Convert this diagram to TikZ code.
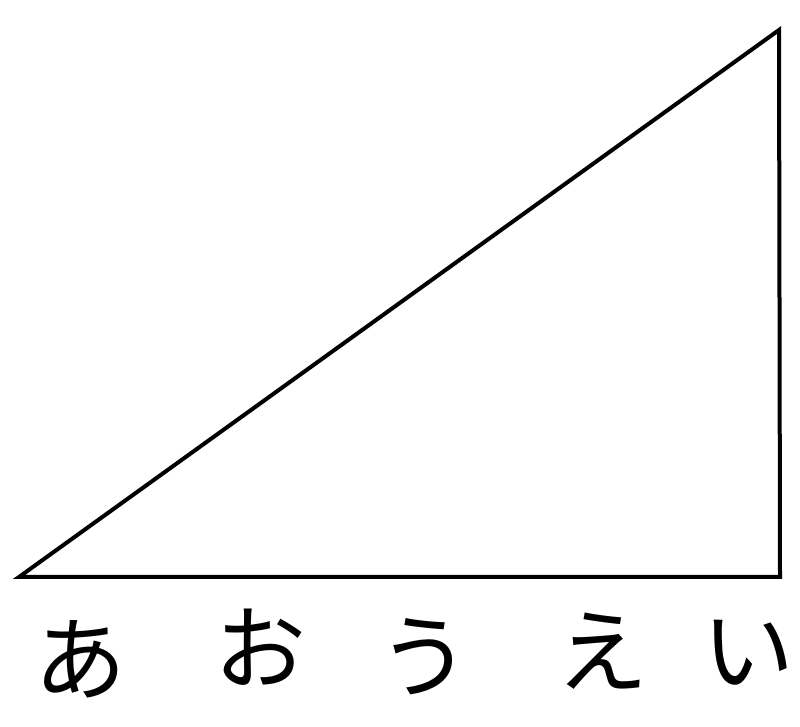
\documentclass[tikz,border=0pt]{standalone}
\usepackage{fontspec}
\newfontfamily\cjk{Noto Sans CJK JP}
\begin{document}
\begin{tikzpicture}[x=1pt,y=1pt,
  edge/.style={line width=4pt,line join=miter,line cap=rect},
  kana/.style={font=\cjk\fontsize{92}{92}\selectfont,inner sep=0pt,anchor=center}]
\useasboundingbox (0,0) rectangle (800,727);
\clip (0,0) rectangle (800,727);
\coordinate (A) at (19,150);
\coordinate (B) at (780,150);
\coordinate (C) at (779,697);
\draw[edge] (A) -- (B) -- (C) -- cycle;
\node[kana] (k1) at (80,68) {あ};
\node[kana] (k2) at (260,80) {お};
\node[kana] (k3) at (424,70) {う};
\node[kana] (k4) at (602,76) {え};
\node[kana] (k5) at (748,74) {い};
\end{tikzpicture}
\end{document}
